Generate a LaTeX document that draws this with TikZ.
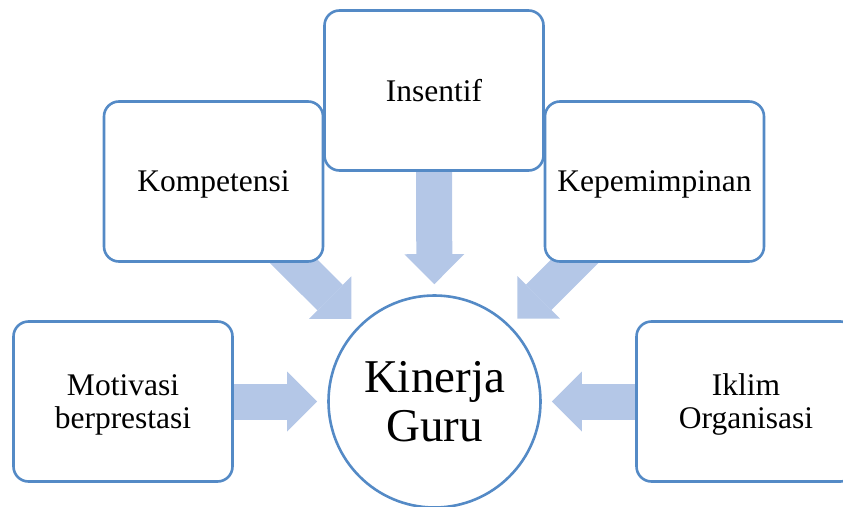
\documentclass[tikz,border=0pt]{standalone}
\usepackage{fontspec}
\setmainfont{Liberation Serif}
\usetikzlibrary{arrows.meta,backgrounds}
\definecolor{edgeblue}{RGB}{84,138,198}
\definecolor{arrowblue}{RGB}{180,199,231}
\tikzset{
  factorbox/.style={draw=edgeblue, line width=2.6pt, fill=white, rounded corners=15pt,
    minimum width=219pt, minimum height=160pt, inner sep=0pt, align=center,
    text depth=0pt, font=\fontsize{31.5}{33}\selectfont},
  centrecircle/.style={draw=edgeblue, line width=2.6pt, fill=white, circle,
    minimum size=212pt, inner sep=0pt, align=center, text depth=0pt,
    font=\fontsize{47}{49}\selectfont},
  flowarrow/.style={draw=arrowblue, line width=36pt, line cap=butt, shorten >=10pt,
    -{Triangle[width=60pt,length=30pt,line width=0pt]}}
}
\begin{document}
\begin{tikzpicture}[x=1pt,y=-1pt]
\useasboundingbox (0,0) rectangle (843,506);
\clip (0,0) rectangle (843,506);
\node[factorbox] (ins) at (434,90.5) {Insentif};
\node[factorbox] (komp) at (213.5,181.5) {Kompetensi};
\node[factorbox] (kep) at (654.5,181.5) {Kepemimpinan};
\node[factorbox] (mot) at (123,401.5) {Motivasi\\berprestasi};
\node[factorbox] (ikl) at (746,401.5) {Iklim\\Organisasi};
\node[centrecircle] (kg) at (434.5,401.5) {Kinerja\\Guru};
\begin{scope}[on background layer]
\draw[flowarrow] (ins.center) -- (kg);
\draw[flowarrow] (komp.center) -- (kg);
\draw[flowarrow] (kep.center) -- (kg);
\draw[flowarrow] (mot.center) -- (kg);
\draw[flowarrow] (ikl.center) -- (kg);
\end{scope}
\end{tikzpicture}
\end{document}
